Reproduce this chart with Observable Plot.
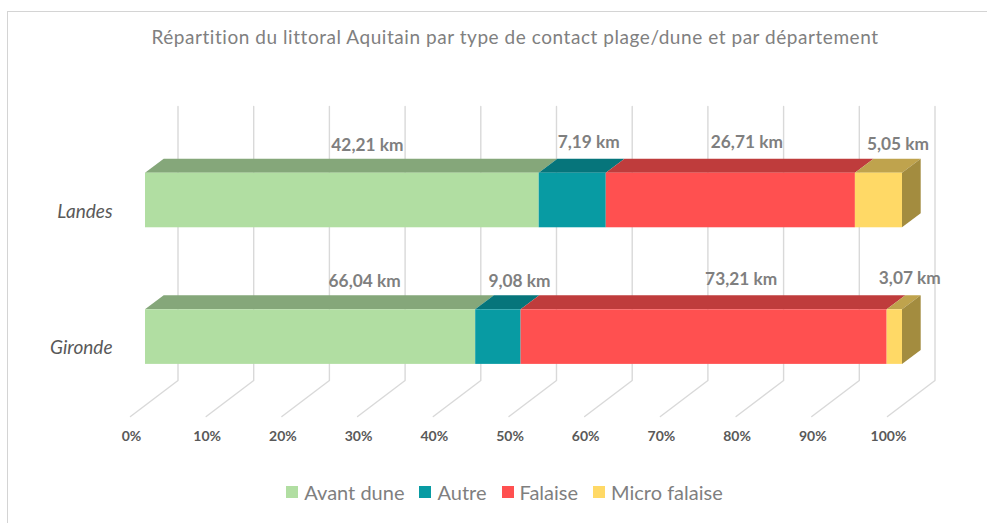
<!DOCTYPE html>
<html lang="fr"><head><meta charset="utf-8">
<script src="https://cdn.jsdelivr.net/npm/d3@7"></script>
<script src="https://cdn.jsdelivr.net/npm/@observablehq/plot@0.6"></script>
<style>
html,body{margin:0;padding:0;background:#fff;width:987px;height:523px;overflow:hidden}
body{font-family:Lato,"Open Sans",sans-serif;position:relative}
#frame{position:absolute;left:7px;top:11px;width:1100px;height:600px;border-left:1.5px solid #d4d4d4;border-top:1.5px solid #d4d4d4;box-sizing:border-box}
#title{position:relative;height:60px;line-height:54px;padding-top:10px;box-sizing:border-box;width:1030px;text-align:center;color:#808080;font-size:19px;letter-spacing:.55px;white-space:nowrap}
#chart{position:relative}
#chart svg{display:block;overflow:visible}
#legend{position:relative;width:1009px;margin-top:15px;display:flex;justify-content:center}
#legend [class$="-swatch"]{margin-right:15px !important}
#legend [class$="-swatch"]:last-child{margin-right:0 !important}
#legend svg{margin-right:6px !important}
</style></head><body>
<div id="frame"></div>
<div id="title">Répartition du littoral Aquitain par type de contact plage/dune et par département</div>
<div id="chart"></div>
<div id="legend"></div>
<script>
const categories = ["Gironde", "Landes"];
const series = ["Avant dune", "Autre", "Falaise", "Micro falaise"];
const giron = [66.04, 9.08, 73.21, 3.07];
const landes = [42.21, 7.19, 26.71, 5.05];
const ticks = [0, .1, .2, .3, .4, .5, .6, .7, .8, .9, 1];
const frontColors = ["#b1dea2", "#089ba3", "#ff5050", "#ffd966"];
const topColors = ["#85a77a", "#06757b", "#bf3c3c", "#bfa34d"];
const sideColor = "#a38c3f";
// hand placement of the value labels, in px from the middle of each segment
const nudgeGironde = [[54, 0], [21, 0], [37, -2], [15, -3]];
const nudgeLandes = [[25, 0], [16, -3], [16, -3], [19, -1]];

// oblique projection, in scale units
const depthX = 18.7 / 757, depthY = 14 / 136.6, halfBar = 27.3 / 136.6;
const wallFront = -15 / 757, wallBack = 32.5 / 757, floorY = -0.3177, topY = 1.688;

const values = [giron, landes];
const segments = values.flatMap((vals, c) => {
  const total = d3.sum(vals);
  let run = 0;
  return vals.map((v, s) => {
    const a = run / total; run += v;
    return {c, s, v, a, b: run / total, series: series[s]};
  });
});

const fmt = v => v.toFixed(2).replace(".", ",") + " km";
const marks = [
  Plot.line(ticks.flatMap(t => [
    {t, x: t + wallBack, y: topY},
    {t, x: t + wallBack, y: floorY},
    {t, x: t + wallFront, y: -0.5813}
  ]), {x: "x", y: "y", z: "t", stroke: "#d9d9d9", strokeWidth: 1.4}),
  Plot.axisX({anchor: "bottom", ticks, tickSize: 0, tickPadding: 15, dx: -14, label: null,
    tickFormat: d => Math.round(d * 100) + "%", fontSize: 14, fontWeight: 700, color: "#595959", fill: "#595959"})
];
for (const d of segments) {
  const top = d.c + halfBar;
  marks.push(Plot.areaX([
    {x1: d.a, x2: d.b, y: top},
    {x1: d.a + depthX, x2: d.b + depthX, y: top + depthY}
  ], {x1: "x1", x2: "x2", y: "y", fill: topColors[d.s]}));
}
for (const c of categories.keys()) {
  marks.push(Plot.areaY([
    {x: 1, y1: c - halfBar, y2: c + halfBar},
    {x: 1 + depthX, y1: c - halfBar + depthY, y2: c + halfBar + depthY}
  ], {x: "x", y1: "y1", y2: "y2", fill: sideColor}));
}
marks.push(Plot.rect(segments, {
  x1: "a", x2: "b",
  y1: d => d.c - halfBar, y2: d => d.c + halfBar,
  fill: "series"
}));
marks.push(Plot.text(categories, {
  x: 0, y: (d, i) => i, text: d => d, dx: -33, dy: 11.2, textAnchor: "end",
  fontStyle: "italic", fontSize: 19, fill: "#595959"
}));
for (const d of segments) {
  const [dx, dy] = (d.c === 0 ? nudgeGironde : nudgeLandes)[d.s];
  marks.push(Plot.text([d], {
    x: e => (e.a + e.b) / 2, y: e => e.c + halfBar + depthY, text: e => fmt(e.v),
    dx, dy: dy - 14, fontSize: 17.3, fontWeight: 700, fill: "#7f7f7f"
  }));
}

const color = {domain: series, range: frontColors};
const plot = Plot.plot({
  width: 987, height: 400,
  marginLeft: 145, marginRight: 85, marginTop: 46, marginBottom: 44,
  style: {background: "transparent", fontFamily: "Lato"},
  x: {domain: [0, 1], axis: null},
  y: {domain: [-0.5813, topY], axis: null},
  color,
  marks
});
document.getElementById("chart").append(plot);
const leg = Plot.legend({color: {...color, type: "ordinal"}, swatchSize: 12, swatchWidth: 12, swatchHeight: 12,
  style: {fontFamily: "Lato", fontSize: "20px", color: "#7f7f7f"}});
document.getElementById("legend").append(leg);
</script>
</body></html>
